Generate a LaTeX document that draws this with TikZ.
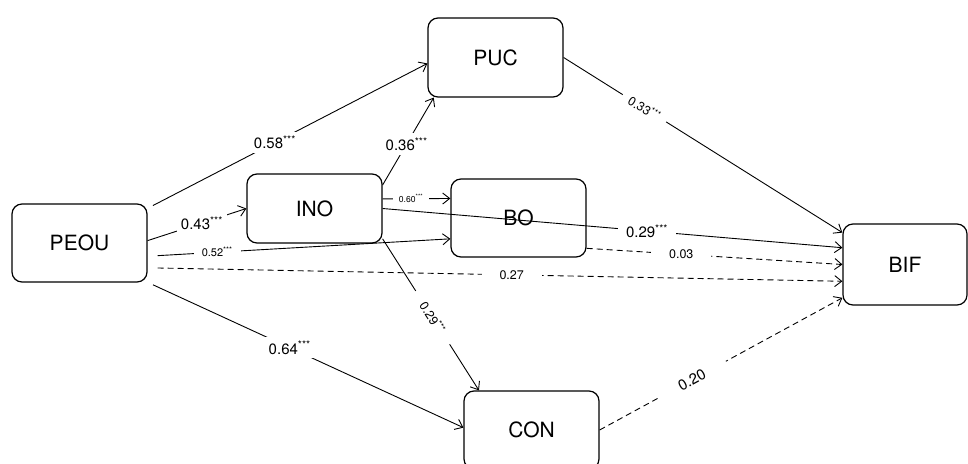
\documentclass[tikz,border=0pt]{standalone}
\usepackage{fontspec}
\setmainfont{TeX Gyre Heros}
\usetikzlibrary{arrows.meta}

\begin{document}
\begin{tikzpicture}[x=1pt,y=-1pt,
    box/.style={draw,line width=1.2pt,rounded corners=10pt,minimum width=135pt,minimum height=78pt,font=\fontsize{21}{25}\selectfont},
    link/.style={line width=0.9pt,-{Straight Barb[length=7pt,width=11pt]}},
    nsig/.style={dash pattern=on 6pt off 4pt},
    lbl/.style={fill=white,inner sep=4pt,font=\fontsize{15}{18}\selectfont},
    lbls/.style={fill=white,inner sep=4pt,font=\fontsize{12.5}{15}\selectfont}]
    \useasboundingbox (0,0) rectangle (968,463);
    % constructs
    \node[box] (peou) at (79.5,243) {PEOU};
    \node[box,minimum height=69pt] (ino) at (314.5,208.5) {INO};
    \node[box,minimum height=79pt] (puc) at (495.5,57.5) {PUC};
    \node[box] (bo) at (518.5,218) {BO};
    \node[box,minimum width=124pt,minimum height=81pt] (bif) at (905,264.5) {BIF};
    \node[box] (con) at (531.5,430) {CON};
    % paths from PEOU
    \draw[link,shorten <=6pt] (peou.27) -- node[lbl,pos=0.455] {0.58\textsuperscript{***}} (puc.185);
    \draw[link] (peou.2) -- node[lbl,pos=0.55] {0.43\textsuperscript{***}} (ino.west);
    \draw[link,shorten <=10pt] (peou.-11) -- node[lbl,inner xsep=8pt,font=\fontsize{11}{13}\selectfont,pos=0.23] {0.52\textsuperscript{***}} (bo.197);
    \draw[link,nsig,shorten <=10pt] (peou.-20) -- node[lbls,inner xsep=18pt,pos=0.524] {0.27} (bif.195);
    \draw[link,shorten <=6pt] (peou.-30) -- node[lbl,inner xsep=7pt,pos=0.45] {0.64\textsuperscript{***}} (con.178);
    % paths from INO
    \draw[link] (ino.19) -- node[lbl,pos=0.47] {0.36\textsuperscript{***}} (puc.213);
    \draw[link] (ino.8) -- node[lbl,inner xsep=6pt,font=\fontsize{8.6}{10}\selectfont,pos=0.42] {0.60\textsuperscript{***}} (bo.164);
    \draw[link] (ino.east) -- node[lbl,inner xsep=8pt,pos=0.575] {0.29\textsuperscript{***}} (bif.165);
    \draw[link] (ino.-24) -- node[lbls,inner xsep=14pt,sloped,pos=0.52] {0.29\textsuperscript{***}} (con.143);
    % paths to BIF
    \draw[link] (puc.east) -- node[lbls,inner xsep=8pt,sloped,pos=0.29] {0.33\textsuperscript{***}} (bif.153);
    \draw[link,nsig] (bo.-24) -- node[lbls,inner xsep=18pt,pos=0.37] {0.03} (bif.west);
    \draw[link,nsig] (con.east) -- node[lbl,inner xsep=24pt,sloped,pos=0.38] {0.20} (bif.208);
\end{tikzpicture}
\end{document}
